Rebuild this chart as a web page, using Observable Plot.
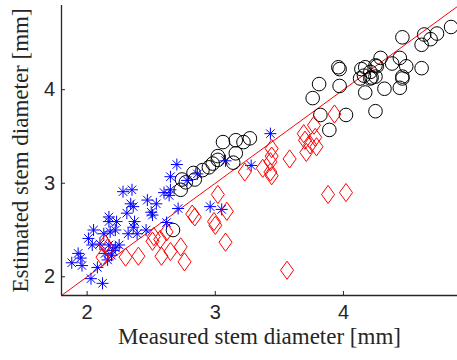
<!DOCTYPE html>
<html>
<head>
<meta charset="utf-8">
<script src="https://cdn.jsdelivr.net/npm/d3@7"></script>
<script src="https://cdn.jsdelivr.net/npm/@observablehq/plot@0.6"></script>
<style>
  html, body { margin: 0; padding: 0; background: #fff; }
  #chart svg { display: block; }
</style>
</head>
<body>
<div id="chart"></div>
<script>
// ---- Data ----
const xDomain = [1.8, 4.89];
const yDomain = [1.8, 4.9];
const xTicks = [2, 3, 4];
const yTicks = [2, 3, 4];
const xLabel = "Measured stem diameter [mm]";
const yLabel = "Estimated stem diameter [mm]";
const identityLine = [1.8, 4.9];

// black circles
const circleX = [2.67,2.73,2.74,2.77,2.83,2.84,2.90,2.95,2.98,3.02,3.02,3.06,3.16,3.14,3.16,3.22,3.27,
  3.76,3.81,3.82,3.89,3.96,3.97,3.97,4.02,4.14,4.16,4.13,4.17,4.17,4.22,4.21,4.26,4.21,4.25,4.25,4.29,
  4.25,4.32,4.38,4.44,4.44,4.46,4.46,4.46,4.49,4.61,4.61,4.63,4.68,4.73,4.84];
const circleY = [2.50,2.93,3.04,3.01,3.11,3.04,3.14,3.17,3.21,3.25,3.29,3.44,3.32,3.22,3.46,3.44,3.48,
  3.91,4.06,3.73,3.57,4.24,4.22,4.04,3.73,4.22,4.15,4.12,4.24,3.97,4.13,4.19,4.25,4.12,4.14,4.26,4.34,
  3.77,4.01,4.28,4.34,4.02,4.56,4.14,4.12,4.25,4.23,4.48,4.59,4.54,4.60,4.67];

// blue asterisks
const starX = [1.88,1.93,1.95,1.96,2.01,2.03,2.05,2.04,2.08,2.10,2.12,2.13,2.14,2.16,2.17,2.17,2.17,2.18,
  2.19,2.20,2.22,2.22,2.23,2.25,2.28,2.31,2.32,2.35,2.34,2.36,2.37,2.36,2.39,2.47,2.46,2.50,2.51,2.54,
  2.60,2.65,2.64,2.62,2.65,2.70,2.71,2.78,2.86,2.96,3.05,3.08,3.28,3.43];
const starY = [2.15,2.25,2.20,2.12,2.41,1.98,2.50,2.34,2.10,2.35,1.93,2.46,2.25,2.18,2.64,2.59,2.34,2.48,
  2.23,2.28,2.50,2.31,2.59,2.34,2.91,2.68,2.46,2.93,2.78,2.75,2.59,2.53,2.46,2.82,2.50,2.69,2.66,2.78,
  2.90,2.93,2.87,2.58,3.07,3.20,2.73,3.03,3.10,2.75,2.72,3.24,3.19,3.53];

// red diamonds
const diamondX = [2.14,2.16,2.12,2.30,2.40,2.52,2.51,2.57,2.58,2.65,2.73,2.76,2.62,2.82,2.84,2.99,3.00,
  3.02,3.08,3.09,3.23,3.37,3.43,3.44,3.44,3.43,3.44,3.58,3.69,3.70,3.71,3.77,3.78,3.79,3.74,3.93,3.88,
  4.02,3.56];
const diamondY = [2.35,2.31,2.21,2.21,2.22,2.43,2.38,2.40,2.22,2.27,2.32,2.16,2.48,2.67,2.64,2.59,2.55,
  2.88,2.37,2.70,3.12,3.16,3.12,3.37,3.29,3.23,3.08,3.26,3.53,3.46,3.33,3.62,3.49,3.39,3.41,3.74,2.88,
  2.90,2.07];

const circles = circleX.map((x, i) => ({x, y: circleY[i]}));
const stars = starX.map((x, i) => ({x, y: starY[i]}));
const diamonds = diamondX.map((x, i) => ({x, y: diamondY[i]}));

// MATLAB-like marker symbols
const diamondSymbol = {
  draw(ctx, size) {
    const r = Math.sqrt(size / Math.PI);
    const h = r * 1.3, w = r * 0.93;
    ctx.moveTo(0, -h); ctx.lineTo(w, 0); ctx.lineTo(0, h); ctx.lineTo(-w, 0); ctx.closePath();
  }
};
const asteriskSymbol = {
  draw(ctx, size) {
    const r = Math.sqrt(size / Math.PI);
    const d = r * 0.7071;
    ctx.moveTo(-r, 0); ctx.lineTo(r, 0);
    ctx.moveTo(0, -r); ctx.lineTo(0, r);
    ctx.moveTo(-d, -d); ctx.lineTo(d, d);
    ctx.moveTo(-d, d); ctx.lineTo(d, -d);
  }
};

const axisColor = "#262626";
const fmt = d => String(d);

const chart = Plot.plot({
  width: 457,
  height: 360,
  marginLeft: 61,
  marginRight: 0,
  marginTop: 5,
  marginBottom: 65,
  x: {domain: xDomain, label: null},
  y: {domain: yDomain, label: null},
  style: {background: "white", overflow: "visible"},
  marks: [
    Plot.line(identityLine, {x: d => d, y: d => d, stroke: "#ff0000", strokeWidth: 1, clip: true}),
    Plot.dot(circles, {x: "x", y: "y", r: 6.8, stroke: "#000", fill: "none", strokeWidth: 1}),
    Plot.dot(stars, {x: "x", y: "y", r: 6, symbol: asteriskSymbol, stroke: "#0000ff", fill: "none", strokeWidth: 1}),
    Plot.dot(diamonds, {x: "x", y: "y", r: 7, symbol: diamondSymbol, stroke: "#ff0000", fill: "none", strokeWidth: 1}),
    Plot.ruleX([xDomain[0]], {stroke: axisColor, strokeWidth: 1.3}),
    Plot.ruleY([yDomain[0]], {stroke: axisColor, strokeWidth: 1.3}),
    Plot.axisX(xTicks, {tickSize: -4, tickPadding: 13, tickFormat: fmt, fontSize: 20, fontFamily: "Liberation Sans", color: axisColor, label: null}),
    Plot.axisY(yTicks, {tickSize: -4, tickPadding: 10.5, tickFormat: fmt, fontSize: 20, fontFamily: "Liberation Sans", color: axisColor, label: null}),
    Plot.text([xLabel], {frameAnchor: "bottom", textAnchor: "middle", dy: 48.5, fontSize: 23, fontFamily: "Liberation Serif", fill: axisColor}),
    Plot.text([yLabel], {frameAnchor: "left", textAnchor: "middle", rotate: -90, dx: -40.5, fontSize: 23, fontFamily: "Liberation Serif", fill: axisColor})
  ]
});
document.getElementById("chart").appendChild(chart);
</script>
</body>
</html>
